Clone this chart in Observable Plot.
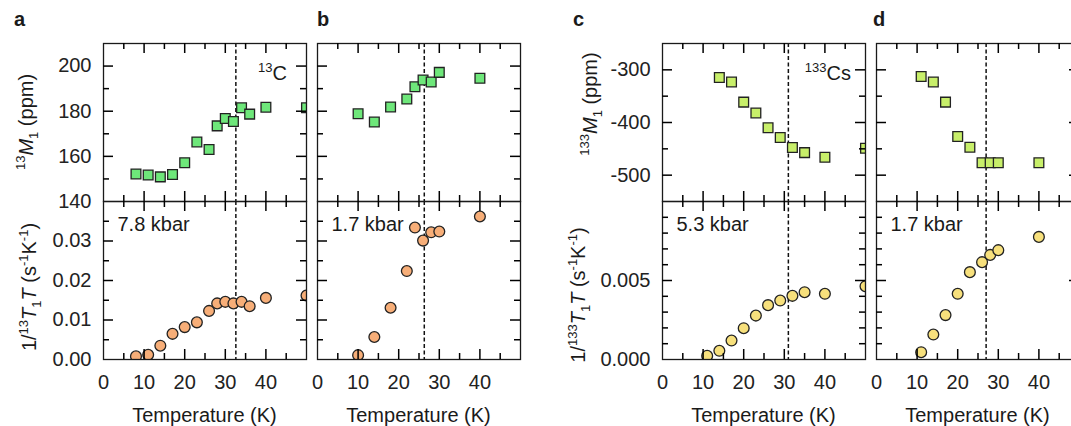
<!DOCTYPE html>
<html><head><meta charset="utf-8">
<script src="https://cdn.jsdelivr.net/npm/d3@7"></script>
<script src="https://cdn.jsdelivr.net/npm/@observablehq/plot@0.6"></script>
<style>
html,body{margin:0;padding:0;background:#fff;overflow:hidden}
#fig{position:relative;width:1071px;height:426px;overflow:hidden;background:#fff;font-family:"Liberation Sans",Arial,sans-serif}
#fig svg{position:absolute}
</style></head>
<body><div id="fig"></div>
<script>
// ---------- data ----------
const panelLetters = ["a", "b", "c", "d"];
const pressures = ["7.8 kbar", "1.7 kbar", "5.3 kbar", "1.7 kbar"];
const transitionT = [32.6, 26.3, 31.0, 27.0];

const aTopT = [8, 11, 14, 17, 20, 23, 26, 28, 30, 32, 34, 36, 40, 50];
const aTopM = [152.2, 151.7, 150.9, 152.0, 157.2, 166.4, 163.0, 173.5, 176.8, 175.4, 181.5, 178.7, 181.8, 181.5];
const aBotT = [8, 11, 14, 17, 20, 23, 26, 28, 30, 32, 34, 36, 40, 50];
const aBotR = [0.0008, 0.0012, 0.0035, 0.0065, 0.0082, 0.0094, 0.0123, 0.0142, 0.0146, 0.0142, 0.0146, 0.0135, 0.0156, 0.0162];

const bTopT = [10, 14, 18, 22, 24, 26, 28, 30, 40];
const bTopM = [178.9, 175.2, 181.9, 185.4, 190.8, 193.8, 192.9, 197.2, 194.6];
const bBotT = [10, 14, 18, 22, 24, 26, 28, 30, 40];
const bBotR = [0.0011, 0.0057, 0.0131, 0.0224, 0.0334, 0.0301, 0.0322, 0.0324, 0.0362];

const cTopT = [14, 17, 20, 23, 26, 29, 32, 35, 40, 50];
const cTopM = [-314.7, -323, -361.3, -381.8, -409.9, -428.4, -447.6, -457.2, -466.1, -448.9];
const cBotT = [11, 14, 17, 20, 23, 26, 29, 32, 35, 40, 50];
const cBotR = [0.00023, 0.00055, 0.0012, 0.00198, 0.00278, 0.00344, 0.00373, 0.00403, 0.00426, 0.00416, 0.00464];

const dTopT = [11, 14, 17, 20, 23, 26, 28, 30, 40];
const dTopM = [-312.8, -323, -361.3, -426.5, -447, -476.4, -476.4, -476.4, -476.4];
const dBotT = [11, 14, 17, 20, 23, 26, 28, 30, 40];
const dBotR = [0.00046, 0.00158, 0.00281, 0.00416, 0.00553, 0.00616, 0.00662, 0.00692, 0.00776];

const xDomain = [0, 50];
const xMajor = [10, 20, 30, 40];
const xMinor = [5, 15, 25, 35, 45];
const xTickLabels = [0, 10, 20, 30, 40];

const cTopDomain = [140, 210];
const cMajorTop = [160, 180, 200];
const cMinorTop = [150, 170, 190];
const cTopLabels = [140, 160, 180, 200];
const cBotDomain = [0, 0.04];
const cMajorBot = [0.01, 0.02, 0.03];
const cMinorBot = [0.005, 0.015, 0.025, 0.035];
const cBotLabels = [0, 0.01, 0.02, 0.03];

const csTopDomain = [-550, -250];
const csMajorTop = [-500, -400, -300];
const csMinorTop = [-450, -350];
const csTopLabels = [-500, -400, -300];
const csBotDomain = [0, 0.01];
const csMajorBot = [0.005];
const csMinorBot = [0.001, 0.002, 0.003, 0.004, 0.006, 0.007, 0.008, 0.009];
const csBotLabels = [0, 0.005];

const greenSq = "#6ee77a", orangeCi = "#f7ae78", limeSq = "#c8ef6a", yellowCi = "#f7e07c";

// ---------- layout ----------
const fig = document.getElementById("fig");
const frameLeft = [103, 317, 662, 876];
const FW = 203, ML = 60, MR = 10, MT = 5;
const topY = 43, midY = 201, botY = 359;

function panel({col, top, T, V, yDomain, yMajor, yMinor, yLabels, yFmt, symbol, fill}) {
  const h = top ? midY - topY : botY - midY;
  const mB = top ? 5 : 40;
  const ink = "#1a1a1a";
  const tk = {stroke: "#000", strokeWidth: 1.5};
  const [y0, y1] = yDomain, [x0, x1] = xDomain;
  const pyu = (y1 - y0) / h, pxu = (x1 - x0) / FW;   // data units per pixel
  // inward ticks on all four sides, as short rules through the scales
  const ticksX = (vals, len) => [
    Plot.ruleX(vals, {x: d => d, y1: y0, y2: y0 + len * pyu, ...tk}),
    Plot.ruleX(vals, {x: d => d, y1: y1, y2: y1 - len * pyu, ...tk})
  ];
  const ticksY = (vals, len) => [
    Plot.ruleY(vals, {y: d => d, x1: x0, x2: x0 + len * pxu, ...tk}),
    Plot.ruleY(vals, {y: d => d, x1: x1, x2: x1 - len * pxu, ...tk})
  ];
  const data = T.map((t, i) => ({t, v: V[i]}));
  const marks = [
    Plot.ruleX([transitionT[col]], {stroke: "#111", strokeWidth: 1.5, strokeDasharray: "4,2.5"}),
    Plot.dot(data, {x: "t", y: "v", symbol, r: symbol === "square" ? 5.5 : 5.4, fill, stroke: "#222", strokeWidth: 1.3, clip: true}),
    Plot.frame({stroke: ink, strokeWidth: 1.3}),
    ...ticksX(xMajor, 10), ...ticksX(xMinor, 6),
    ...ticksY(yMajor, 10), ...ticksY(yMinor, 6),
    Plot.axisX(xTickLabels, {anchor: "bottom", tickSize: 0, tickPadding: 15, fontSize: 20, label: null,
      tickFormat: top ? () => "" : d => String(d)}),
    Plot.axisY(yLabels || [], {anchor: "left", tickSize: 0, tickPadding: 12, fontSize: 20, label: null,
      tickFormat: yLabels ? yFmt : () => ""})
  ];
  const svg = Plot.plot({
    width: ML + FW + MR, height: MT + h + mB,
    marginLeft: ML, marginRight: MR, marginTop: MT, marginBottom: mB,
    x: {domain: xDomain}, y: {domain: yDomain},
    style: {background: "transparent", overflow: "visible", color: "#222", fontFamily: "'Liberation Sans', Arial, sans-serif", maxWidth: "none"},
    marks
  });
  svg.style.left = (frameLeft[col] - ML) + "px";
  svg.style.top = ((top ? topY : midY) - MT) + "px";
  fig.appendChild(svg);
}

const f0 = d => String(d);
const f2 = d => d.toFixed(2);
const f3 = d => d.toFixed(3);

panel({col: 0, top: true, T: aTopT, V: aTopM, yDomain: cTopDomain, yMajor: cMajorTop, yMinor: cMinorTop, yLabels: cTopLabels, yFmt: f0, symbol: "square", fill: greenSq});
panel({col: 0, top: false, T: aBotT, V: aBotR, yDomain: cBotDomain, yMajor: cMajorBot, yMinor: cMinorBot, yLabels: cBotLabels, yFmt: f2, symbol: "circle", fill: orangeCi});
panel({col: 1, top: true, T: bTopT, V: bTopM, yDomain: cTopDomain, yMajor: cMajorTop, yMinor: cMinorTop, symbol: "square", fill: greenSq});
panel({col: 1, top: false, T: bBotT, V: bBotR, yDomain: cBotDomain, yMajor: cMajorBot, yMinor: cMinorBot, symbol: "circle", fill: orangeCi});
panel({col: 2, top: true, T: cTopT, V: cTopM, yDomain: csTopDomain, yMajor: csMajorTop, yMinor: csMinorTop, yLabels: csTopLabels, yFmt: f0, symbol: "square", fill: limeSq});
panel({col: 2, top: false, T: cBotT, V: cBotR, yDomain: csBotDomain, yMajor: csMajorBot, yMinor: csMinorBot, yLabels: csBotLabels, yFmt: f3, symbol: "circle", fill: yellowCi});
panel({col: 3, top: true, T: dTopT, V: dTopM, yDomain: csTopDomain, yMajor: csMajorTop, yMinor: csMinorTop, symbol: "square", fill: limeSq});
panel({col: 3, top: false, T: dBotT, V: dBotR, yDomain: csBotDomain, yMajor: csMajorBot, yMinor: csMinorBot, symbol: "circle", fill: yellowCi});

// ---------- text overlay ----------
const ov = d3.select(fig).append("svg").attr("width", 1071).attr("height", 426)
  .style("left", "0px").style("top", "0px").style("pointer-events", "none")
  .attr("font-family", "'Liberation Sans', Arial, sans-serif").attr("fill", "#1a1a1a");

function rich(g, parts, size) {
  let shift = 0;
  parts.forEach(([s, kind]) => {
    const target = kind === "sup" ? -8 : kind === "sub" ? 5 : 0;
    const tsp = g.append("tspan").attr("dy", target - shift).text(s)
      .attr("font-size", kind === "sup" || kind === "sub" ? 13 : size);
    if (kind === "it") tsp.attr("font-style", "italic");
    shift = target;
  });
}

panelLetters.forEach((L, i) => {
  ov.append("text").attr("x", [14, 317, 573, 873][i]).attr("y", 26)
    .attr("font-size", 20).attr("font-weight", "bold").text(L);
});
pressures.forEach((p, i) => {
  ov.append("text").attr("x", frameLeft[i] + 14.5).attr("y", 231).attr("font-size", 20).text(p);
});
["Temperature (K)"].forEach(s => frameLeft.forEach(fx => {
  ov.append("text").attr("x", fx + FW / 2).attr("y", 422).attr("text-anchor", "middle").attr("font-size", 20).text(s);
}));

const nuc = [
  {x: 287, y: 80, parts: [["13", "sup"], ["C", ""]]},
  {x: 851, y: 80, parts: [["133", "sup"], ["Cs", ""]]}
];
nuc.forEach(n => {
  const t = ov.append("text").attr("x", n.x).attr("y", n.y).attr("text-anchor", "end").attr("font-size", 20);
  rich(t, n.parts, 20);
});

const yTitles = [
  {x: 33, y: 122, parts: [["13", "sup"], ["M", "it"], ["1", "sub"], [" (ppm)", ""]]},
  {x: 36, y: 287, parts: [["1/", ""], ["13", "sup"], ["T", "it"], ["1", "sub"], ["T", "it"], [" (s", ""], ["-1", "sup"], ["K", ""], ["-1", "sup"], [")", ""]]},
  {x: 597, y: 104, parts: [["133", "sup"], ["M", "it"], ["1", "sub"], [" (ppm)", ""]]},
  {x: 585, y: 295, parts: [["1/", ""], ["133", "sup"], ["T", "it"], ["1", "sub"], ["T", "it"], [" (s", ""], ["-1", "sup"], ["K", ""], ["-1", "sup"], [")", ""]]}
];
yTitles.forEach(l => {
  const t = ov.append("text").attr("transform", `translate(${l.x},${l.y}) rotate(-90)`)
    .attr("text-anchor", "middle").attr("font-size", 20);
  rich(t, l.parts, 20);
});
</script>
</body></html>
